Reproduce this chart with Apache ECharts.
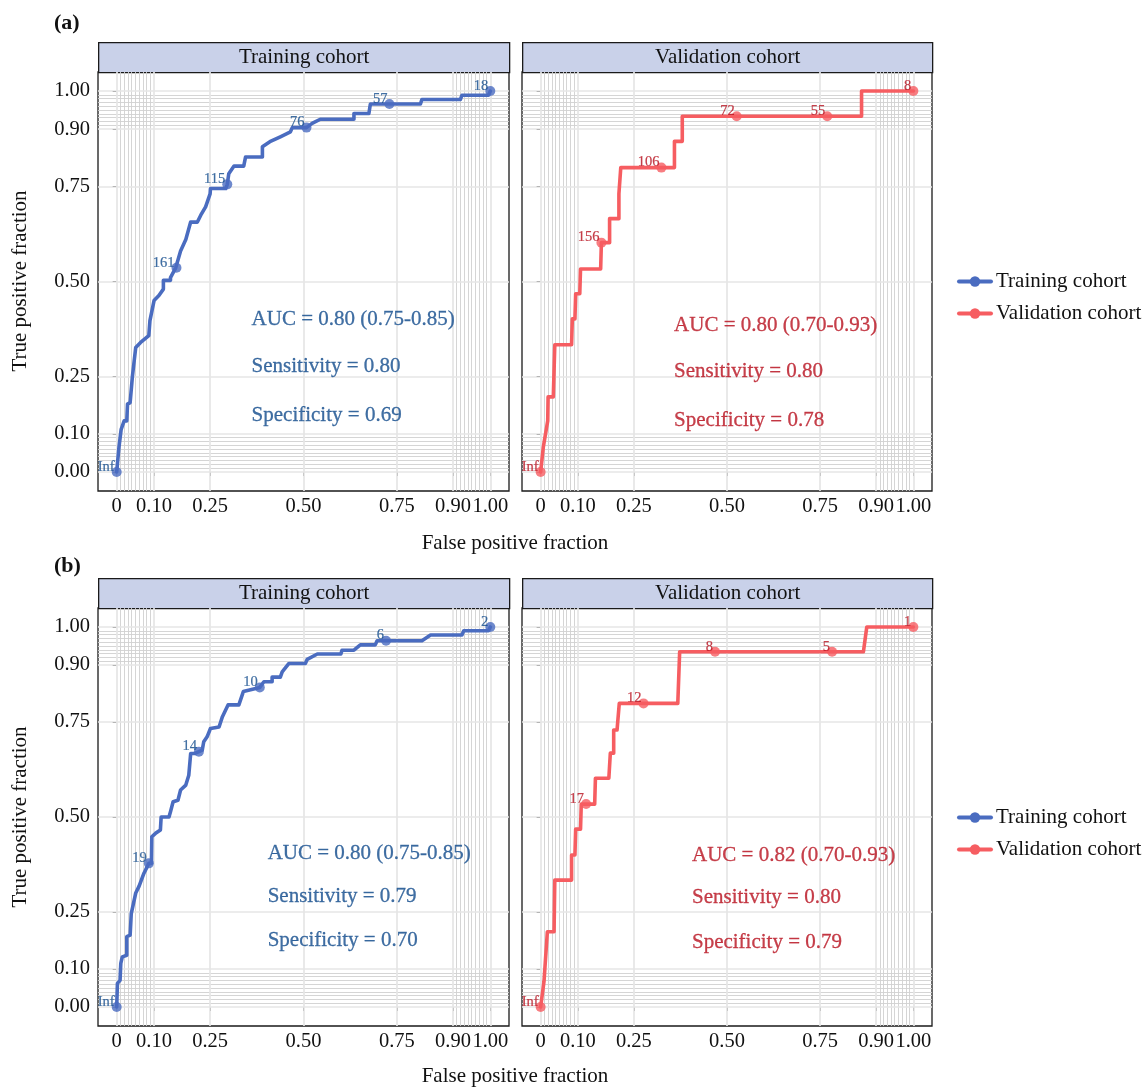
<!DOCTYPE html>
<html>
<head>
<meta charset="utf-8">
<title>ROC curves</title>
<style>
  html, body { margin: 0; padding: 0; background: #fff; }
  #container { width: 1145px; height: 1087px; }
</style>
</head>
<body>
<div id="container"></div>
<script src="https://cdn.jsdelivr.net/npm/echarts@6/dist/echarts.min.js"></script>
<script>
// ---- data: [fpr, tpr] corners of each ROC curve ----
var trainA = [[0,0],[0.006,0.064],[0.012,0.112],[0.02,0.134],[0.027,0.134],[0.029,0.178],[0.036,0.182],[0.042,0.25],
  [0.051,0.327],[0.064,0.34],[0.086,0.358],[0.089,0.397],[0.1,0.45],[0.113,0.463],[0.125,0.48],[0.125,0.503],
  [0.144,0.503],[0.144,0.51],[0.158,0.536],[0.16,0.536],[0.171,0.58],[0.185,0.61],[0.198,0.656],[0.216,0.656],
  [0.225,0.674],[0.238,0.696],[0.25,0.73],[0.251,0.744],[0.292,0.744],[0.296,0.755],[0.3,0.783],[0.314,0.803],
  [0.34,0.803],[0.345,0.827],[0.39,0.827],[0.39,0.854],[0.41,0.867],[0.438,0.88],[0.465,0.893],[0.47,0.904],
  [0.508,0.904],[0.523,0.915],[0.545,0.926],[0.635,0.926],[0.635,0.941],[0.675,0.941],[0.679,0.966],[0.73,0.966],
  [0.813,0.966],[0.817,0.978],[0.92,0.978],[0.924,0.989],[0.995,0.989],[1,1]];
var validA = [[0,0],[0.007,0.064],[0.012,0.066],[0.019,0.134],[0.02,0.197],[0.034,0.197],[0.038,0.334],[0.083,0.334],
  [0.085,0.402],[0.092,0.402],[0.094,0.468],[0.105,0.468],[0.107,0.533],[0.161,0.533],[0.163,0.602],[0.185,0.602],
  [0.185,0.665],[0.21,0.665],[0.21,0.73],[0.215,0.73],[0.215,0.799],[0.359,0.799],[0.359,0.868],[0.38,0.868],
  [0.38,0.934],[0.861,0.934],[0.861,1],[1,1]];
var trainB = [[0,0],[0.002,0.062],[0.009,0.07],[0.011,0.115],[0.015,0.132],[0.027,0.136],[0.027,0.185],[0.036,0.189],
  [0.039,0.246],[0.051,0.3],[0.06,0.318],[0.073,0.352],[0.086,0.378],[0.093,0.378],[0.094,0.448],[0.104,0.457],
  [0.117,0.466],[0.119,0.5],[0.14,0.5],[0.144,0.514],[0.151,0.54],[0.164,0.544],[0.171,0.571],[0.185,0.584],
  [0.193,0.61],[0.198,0.667],[0.208,0.667],[0.22,0.672],[0.229,0.676],[0.233,0.698],[0.242,0.711],[0.251,0.733],
  [0.274,0.737],[0.283,0.764],[0.298,0.795],[0.327,0.795],[0.339,0.83],[0.383,0.841],[0.394,0.856],[0.416,0.856],
  [0.416,0.868],[0.438,0.868],[0.443,0.882],[0.461,0.904],[0.505,0.904],[0.51,0.915],[0.537,0.929],[0.6,0.929],
  [0.603,0.939],[0.635,0.939],[0.652,0.953],[0.692,0.953],[0.697,0.964],[0.721,0.964],[0.817,0.964],[0.84,0.979],
  [0.924,0.979],[0.929,0.99],[0.995,0.99],[1,1]];
var validB = [[0,0],[0.009,0.067],[0.014,0.067],[0.018,0.198],[0.036,0.198],[0.038,0.334],[0.083,0.334],[0.083,0.4],
  [0.092,0.4],[0.094,0.468],[0.107,0.468],[0.109,0.534],[0.145,0.534],[0.147,0.602],[0.183,0.602],[0.187,0.668],
  [0.196,0.668],[0.196,0.729],[0.205,0.729],[0.211,0.799],[0.368,0.799],[0.373,0.935],[0.866,0.935],[0.875,1],[1,1]];

// labelled cutoffs: [fpr, tpr, cutoff]
var cutTrainA = [[0,0,'Inf'],[0.16,0.536,'161'],[0.296,0.755,'115'],[0.508,0.904,'76'],[0.73,0.966,'57'],[1,1,'18']];
var cutValidA = [[0,0,'Inf'],[0.163,0.602,'156'],[0.324,0.799,'106'],[0.526,0.934,'72'],[0.769,0.934,'55'],[1,1,'8']];
var cutTrainB = [[0,0,'Inf'],[0.086,0.378,'19'],[0.22,0.672,'14'],[0.383,0.841,'10'],[0.721,0.964,'6'],[1,1,'2']];
var cutValidB = [[0,0,'Inf'],[0.122,0.534,'17'],[0.276,0.799,'12'],[0.468,0.935,'8'],[0.782,0.935,'5'],[1,1,'1']];

var statsTrainA = ['AUC = 0.80 (0.75-0.85)', 'Sensitivity = 0.80', 'Specificity = 0.69'];
var statsValidA = ['AUC = 0.80 (0.70-0.93)', 'Sensitivity = 0.80', 'Specificity = 0.78'];
var statsTrainB = ['AUC = 0.80 (0.75-0.85)', 'Sensitivity = 0.79', 'Specificity = 0.70'];
var statsValidB = ['AUC = 0.82 (0.70-0.93)', 'Sensitivity = 0.80', 'Specificity = 0.79'];

var cohorts = ['Training cohort', 'Validation cohort'];
var majorBreaks = [0, 0.1, 0.25, 0.5, 0.75, 0.9, 1];
var minorBreaks = [0.01,0.02,0.03,0.04,0.05,0.06,0.07,0.08,0.09,0.91,0.92,0.93,0.94,0.95,0.96,0.97,0.98,0.99];

var FONT = 'Liberation Serif, Times New Roman, serif';
var blue = { line: '#4a6cc0', text: '#124b8c' };
var red = { line: '#f65d61', text: '#b8101e' };

var panels = [
  { box: [98, 72, 411, 419], title: cohorts[0], col: blue, line: trainA, cuts: cutTrainA, stats: statsTrainA, sx: 0.361, sy: [0.40, 0.276, 0.147], yLab: true },
  { box: [522, 72, 410, 419], title: cohorts[1], col: red, line: validA, cuts: cutValidA, stats: statsValidA, sx: 0.358, sy: [0.384, 0.263, 0.134], yLab: false },
  { box: [98, 608, 411, 418], title: cohorts[0], col: blue, line: trainB, cuts: cutTrainB, stats: statsTrainB, sx: 0.404, sy: [0.405, 0.292, 0.176], yLab: true },
  { box: [522, 608, 410, 418], title: cohorts[1], col: red, line: validB, cuts: cutValidB, stats: statsValidB, sx: 0.406, sy: [0.40, 0.287, 0.171], yLab: false }
];

var grids = [], xAxes = [], yAxes = [], series = [], graphics = [];

function gridLines() {
  var d = [];
  var minor = { color: '#d0d0d0', width: 0.9, type: 'solid' };
  var major = { color: '#e6e6e6', width: 1.7, type: 'solid' };
  minorBreaks.forEach(function (v) {
    d.push({ xAxis: v, lineStyle: minor });
    d.push({ yAxis: v, lineStyle: minor });
  });
  majorBreaks.forEach(function (v) {
    d.push({ xAxis: v, lineStyle: major });
    d.push({ yAxis: v, lineStyle: major });
  });
  return d;
}

panels.forEach(function (p, i) {
  grids.push({ left: p.box[0], top: p.box[1], width: p.box[2], height: p.box[3],
    show: true, borderColor: '#1a1a1a', borderWidth: 1.3, backgroundColor: '#fff' });
  xAxes.push({
    gridIndex: i, type: 'value', min: -0.05, max: 1.05,
    axisLine: { show: false }, splitLine: { show: false },
    axisTick: { show: true, customValues: majorBreaks, length: 4, lineStyle: { color: '#222', width: 1 } },
    axisLabel: { customValues: majorBreaks, margin: 5, color: '#111', fontSize: 20.5, fontFamily: FONT,
      formatter: function (v) { return v === 0 ? '0' : v.toFixed(2); } }
  });
  yAxes.push({
    gridIndex: i, type: 'value', min: -0.05, max: 1.05,
    axisLine: { show: false }, splitLine: { show: false },
    axisTick: { show: true, customValues: majorBreaks, length: 4, lineStyle: { color: '#222', width: 1 } },
    axisLabel: { show: p.yLab, customValues: majorBreaks, margin: 8, color: '#111', fontSize: 20.5, fontFamily: FONT,
      formatter: function (v) { return v.toFixed(2); } }
  });
  // background grid
  series.push({
    type: 'line', xAxisIndex: i, yAxisIndex: i, data: [], silent: true, z: 1,
    markLine: { silent: true, z: 1, symbol: ['none', 'none'], animation: false, label: { show: false },
      lineStyle: { type: 'solid' }, emphasis: { disabled: true }, data: gridLines() }
  });
  // ROC curve
  series.push({
    name: p.title, type: 'line', xAxisIndex: i, yAxisIndex: i, z: 6,
    data: p.line, showSymbol: false, symbol: 'circle', symbolSize: 10,
    itemStyle: { color: p.col.line },
    lineStyle: { color: p.col.line, width: 3.6, join: 'round', cap: 'round' }, animation: false
  });
  // cutoff points
  series.push({
    name: p.title, type: 'scatter', xAxisIndex: i, yAxisIndex: i, z: 7, symbolSize: 10,
    itemStyle: { color: p.col.line },
    data: p.cuts.map(function (c) { return { value: [c[0], c[1]], name: c[2] }; }),
    label: { show: true, position: 'left', distance: 0, offset: [3, -5], formatter: '{b}',
      color: p.col.text, fontSize: 14.5, fontFamily: FONT, textBorderColor: p.col.text, textBorderWidth: 0.2 },
    animation: false
  });
  // AUC / sensitivity / specificity
  series.push({
    type: 'scatter', xAxisIndex: i, yAxisIndex: i, z: 8, symbolSize: 0, silent: true,
    data: p.stats.map(function (s, k) { return { value: [p.sx, p.sy[k]], name: s }; }),
    label: { show: true, position: 'right', distance: 0, formatter: '{b}',
      color: p.col.text, fontSize: 21, fontFamily: FONT, textBorderColor: p.col.text, textBorderWidth: 0.3 },
    animation: false
  });
  // facet strip
  graphics.push({
    type: 'group', left: p.box[0], top: p.box[1] - 30,
    children: [
      { type: 'rect', shape: { x: 0, y: 0, width: p.box[2], height: 30 },
        style: { fill: '#c9d1e9', stroke: '#1a1a1a', lineWidth: 1.3 } },
      { type: 'text', x: p.box[2] / 2, y: 15,
        style: { text: p.title, font: '21px ' + FONT, fill: '#111', align: 'center', verticalAlign: 'middle' } }
    ]
  });
});

// panel letters and shared axis titles
[['(a)', 22, 281, 543], ['(b)', 565, 817, 1076]].forEach(function (r) {
  graphics.push({ type: 'text', left: 54, top: r[1] - 10,
    style: { text: r[0], font: 'bold 22px ' + FONT, fill: '#111' } });
  graphics.push({ type: 'text', x: 515, y: r[3],
    style: { text: 'False positive fraction', font: '21px ' + FONT, fill: '#111', align: 'center', verticalAlign: 'middle' } });
  graphics.push({ type: 'text', x: 20, y: r[2], rotation: Math.PI / 2,
    style: { text: 'True positive fraction', font: '21px ' + FONT, fill: '#111', align: 'center', verticalAlign: 'middle' } });
});

function legendAt(top) {
  return {
    data: cohorts, orient: 'vertical', left: 952, top: top, itemWidth: 32, itemHeight: 13, itemGap: 11,
    selectedMode: false, lineStyle: { width: 4 },
    textStyle: { fontSize: 21, fontFamily: FONT, color: '#111' }
  };
}

var chart = echarts.init(document.getElementById('container'));
chart.setOption({
  backgroundColor: '#fff',
  animation: false,
  grid: grids,
  xAxis: xAxes,
  yAxis: yAxes,
  legend: [legendAt(266), legendAt(802)],
  series: series,
  graphic: graphics
});
</script>
</body>
</html>
